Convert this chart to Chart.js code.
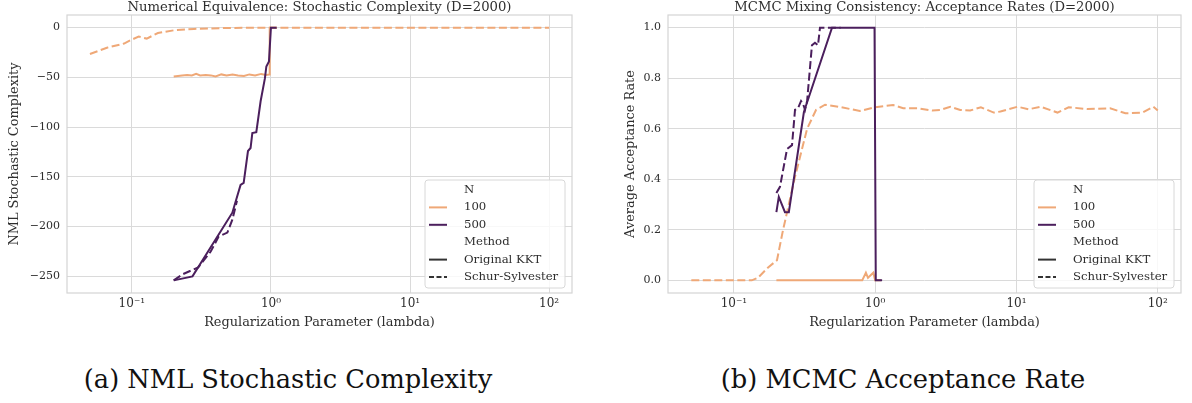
<!DOCTYPE html>
<html>
<head>
<meta charset="utf-8">
<script src="https://cdn.jsdelivr.net/npm/chart.js@4.4.0/dist/chart.umd.min.js"></script>
<style>
  body { margin: 0; background: #fff; width: 1192px; height: 403px; overflow: hidden; position: relative; }
  canvas { position: absolute; top: 0; }
  #nmlChart { left: 0; }
  #accChart { left: 596px; }
  .cap { position: absolute; top: 364px; font-family: "DejaVu Serif", serif; font-size: 25.7px; color: #111; white-space: nowrap; transform: translateX(-50%); line-height: 30px; }
</style>
</head>
<body>
<canvas id="nmlChart" width="596" height="345"></canvas>
<canvas id="accChart" width="596" height="345"></canvas>
<div class="cap" style="left:288px">(a) NML Stochastic Complexity</div>
<div class="cap" style="left:903px">(b) MCMC Acceptance Rate</div>
<script>
// shared axis ticks
const xTicks = [0.1, 1, 10, 100];
const xTickLabels = ['10\u207B\u00B9', '10\u2070', '10\u00B9', '10\u00B2'];
const nmlTicks = [-250, -200, -150, -100, -50, 0];
const accTicks = [0, 0.2, 0.4, 0.6, 0.8, 1.0];

// (a) NML stochastic complexity
const nmlKkt100Lam = [0.2, 0.23, 0.25, 0.27, 0.29, 0.31, 0.34, 0.37, 0.4, 0.44, 0.48, 0.53, 0.58, 0.64, 0.7, 0.77, 0.85, 0.92, 0.97, 0.98, 1.1];
const nmlKkt100 = [-49, -48, -47.5, -48, -46.5, -48, -47.5, -48, -49, -47, -48, -47, -48, -48.5, -47, -48, -46.5, -47.5, -47, 0, 0];
const nmlKkt500Lam = [0.2, 0.273, 0.528, 0.605, 0.637, 0.684, 0.714, 0.735, 0.785, 0.843, 0.905, 0.927, 0.968, 1.0, 1.1];
const nmlKkt500 = [-254, -250, -186, -158, -156, -124, -121, -106, -105, -74, -51, -39, -34, 0, 0];
const nmlSchur100Lam = [0.05, 0.067, 0.088, 0.1, 0.112, 0.128, 0.154, 0.2, 0.28, 0.5, 1.0, 100];
const nmlSchur100 = [-26.5, -20, -16, -12, -9, -11, -5.4, -2.7, -1.3, -0.3, 0, 0];
const nmlSchur500Lam = [0.2, 0.231, 0.3, 0.369, 0.421, 0.486, 0.528, 0.57];
const nmlSchur500 = [-254, -248, -241, -225, -210, -206, -193, -174];

// (b) MCMC acceptance rate
const accKkt100Lam = [0.2, 0.81, 0.86, 0.89, 0.97, 1.0, 1.1];
const accKkt100 = [0, 0, 0.03, 0.01, 0.03, 0, 0];
const accKkt500Lam = [0.2, 0.208, 0.23, 0.245, 0.313, 0.319, 0.495, 0.99, 1.01, 1.12];
const accKkt500 = [0.27, 0.33, 0.27, 0.27, 0.665, 0.68, 1.0, 1.0, 0, 0];
const accSchur100Lam = [0.05, 0.134, 0.148, 0.174, 0.202, 0.223, 0.238, 0.271, 0.33, 0.382, 0.442, 0.565, 0.78, 1.0, 1.34, 1.58, 1.99, 2.54, 2.89, 3.4, 4.0, 4.7, 5.6, 6.9, 7.7, 10.2, 12.2, 14.8, 19.5, 23.4, 31.7, 46, 59, 78, 93, 100];
const accSchur100 = [0, 0, 0.01, 0.05, 0.08, 0.2, 0.27, 0.41, 0.6, 0.675, 0.695, 0.686, 0.67, 0.685, 0.694, 0.681, 0.681, 0.672, 0.674, 0.687, 0.674, 0.672, 0.685, 0.664, 0.668, 0.687, 0.677, 0.687, 0.664, 0.685, 0.678, 0.681, 0.661, 0.664, 0.687, 0.672];
const accSchur500Lam = [0.2, 0.212, 0.238, 0.258, 0.271, 0.284, 0.299, 0.308, 0.319, 0.33, 0.357, 0.375, 0.394, 0.407, 0.57];
const accSchur500 = [0.346, 0.37, 0.52, 0.535, 0.675, 0.68, 0.71, 0.70, 0.675, 0.71, 0.93, 0.94, 0.93, 1.0, 1.0];

const ORANGE = '#efa877';
const PURPLE = '#4b1f5d';
const TEXT = '#2e2e2e';
const GRID = '#dadada';
const FONT = '"DejaVu Serif", serif';
const DASH = [8, 3.5];

const pts = (xs, ys) => xs.map((x, i) => ({ x: x, y: ys[i] }));

function line(data, color, dashed) {
    return { data: data, borderColor: color, borderWidth: 2, borderDash: dashed ? DASH : [], pointRadius: 0, tension: 0, fill: false };
}

// frame, title and the seaborn style legend
const decor = {
    id: 'decor',
    beforeDatasetsDraw(chart) {
        const { ctx, chartArea: a } = chart;
        ctx.save();
        ctx.strokeStyle = '#d4d4d4';
        ctx.lineWidth = 1.2;
        ctx.strokeRect(a.left, a.top, a.right - a.left, a.bottom - a.top);
        ctx.restore();
    },
    afterDraw(chart, args, opts) {
        const { ctx, chartArea: a } = chart;
        ctx.save();
        ctx.fillStyle = TEXT;
        ctx.font = '13.2px ' + FONT;
        ctx.textAlign = 'center';
        ctx.textBaseline = 'alphabetic';
        ctx.fillText(opts.title, (a.left + a.right) / 2, 11);

        const w = 140, h = 108;
        const x0 = a.right - 7 - w, y0 = a.bottom - 5 - h;
        ctx.beginPath();
        ctx.roundRect(x0, y0, w, h, 3);
        ctx.fillStyle = 'rgba(255,255,255,0.8)';
        ctx.fill();
        ctx.strokeStyle = '#d8d8d8';
        ctx.lineWidth = 1;
        ctx.stroke();

        const rows = [
            { label: 'N' },
            { label: '100', color: ORANGE },
            { label: '500', color: PURPLE },
            { label: 'Method' },
            { label: 'Original KKT', color: '#333333' },
            { label: 'Schur-Sylvester', color: '#333333', dash: true }
        ];
        ctx.font = '11.7px ' + FONT;
        ctx.textAlign = 'left';
        ctx.textBaseline = 'middle';
        rows.forEach((r, i) => {
            const y = y0 + 10 + i * 17.4;
            if (r.color) {
                ctx.beginPath();
                ctx.setLineDash(r.dash ? [5, 2.5] : []);
                ctx.strokeStyle = r.color;
                ctx.lineWidth = 2;
                ctx.moveTo(x0 + 4, y);
                ctx.lineTo(x0 + 22, y);
                ctx.stroke();
                ctx.setLineDash([]);
            }
            ctx.fillStyle = TEXT;
            ctx.fillText(r.label, x0 + 39, y);
        });
        ctx.restore();
    }
};

function makeChart(id, cfg) {
    return new Chart(document.getElementById(id), {
        type: 'line',
        data: { datasets: cfg.datasets },
        options: {
            responsive: false,
            animation: false,
            layout: { padding: { left: 0, right: cfg.padRight, top: 15, bottom: 7 } },
            plugins: { legend: { display: false }, tooltip: { enabled: false }, decor: { title: cfg.title } },
            scales: {
                x: {
                    type: 'logarithmic',
                    min: 0.0342,
                    max: 146,
                    afterBuildTicks: s => { s.ticks = xTicks.map(v => ({ value: v })); },
                    afterFit: s => { s.height = 45; },
                    ticks: { callback: (v, i) => xTickLabels[i], font: { family: FONT, size: 12 }, color: TEXT, padding: 4, maxRotation: 0, autoSkip: false },
                    grid: { color: GRID, drawTicks: false },
                    border: { display: false },
                    title: { display: true, text: 'Regularization Parameter (lambda)', font: { family: FONT, size: 12.9 }, color: TEXT, padding: { top: 0, bottom: 8 } }
                },
                y: {
                    min: cfg.yMin,
                    max: cfg.yMax,
                    afterBuildTicks: s => { s.ticks = cfg.yTicks.map(v => ({ value: v })); },
                    afterFit: s => { s.width = cfg.yWidth; },
                    ticks: { callback: cfg.yFmt, font: { family: FONT, size: 11 }, color: TEXT, padding: 7 },
                    grid: { color: GRID, drawTicks: false },
                    border: { display: false },
                    title: { display: true, text: cfg.yTitle, font: { family: FONT, size: 12.9 }, color: TEXT, padding: { top: cfg.yTitlePad, bottom: 0 } }
                }
            }
        },
        plugins: [decor]
    });
}

makeChart('nmlChart', {
    title: 'Numerical Equivalence: Stochastic Complexity (D=2000)',
    yTitle: 'NML Stochastic Complexity',
    yMin: -266.7, yMax: 12.7, yTicks: nmlTicks,
    yFmt: v => String(v).replace('-', '\u2212'),
    yWidth: 67, yTitlePad: 7, padRight: 24,
    datasets: [
        line(pts(nmlKkt500Lam, nmlKkt500), PURPLE, false),
        line(pts(nmlSchur500Lam, nmlSchur500), PURPLE, true),
        line(pts(nmlKkt100Lam, nmlKkt100), ORANGE, false),
        line(pts(nmlSchur100Lam, nmlSchur100), ORANGE, true)
    ]
});

makeChart('accChart', {
    title: 'MCMC Mixing Consistency: Acceptance Rates (D=2000)',
    yTitle: 'Average Acceptance Rate',
    yMin: -0.05, yMax: 1.05, yTicks: accTicks,
    yFmt: v => v.toFixed(1),
    yWidth: 72, yTitlePad: 27, padRight: 11,
    datasets: [
        line(pts(accKkt500Lam, accKkt500), PURPLE, false),
        line(pts(accSchur500Lam, accSchur500), PURPLE, true),
        line(pts(accKkt100Lam, accKkt100), ORANGE, false),
        line(pts(accSchur100Lam, accSchur100), ORANGE, true)
    ]
});
</script>
</body>
</html>
